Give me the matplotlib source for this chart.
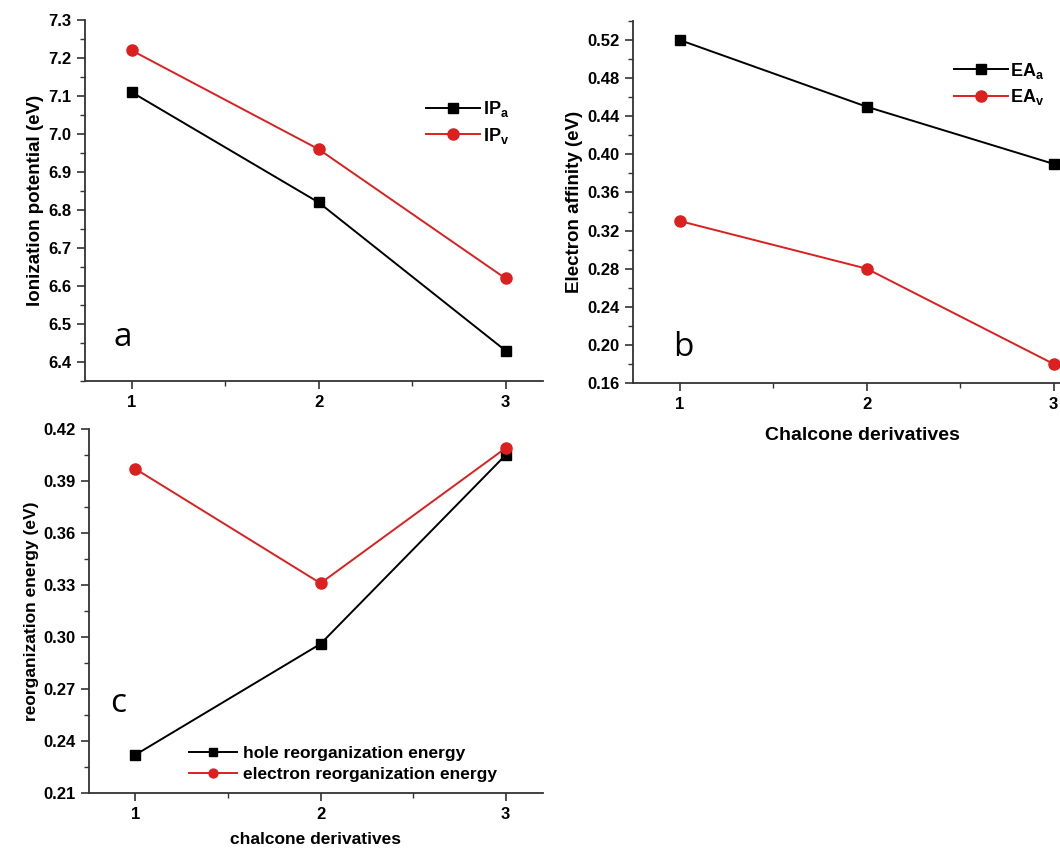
import matplotlib.pyplot as plt
from matplotlib.ticker import MultipleLocator

# Datos de los derivados de chalcona
derivados = [1, 2, 3]

ip_a = [7.11, 6.82, 6.43]
ip_v = [7.22, 6.96, 6.62]

ea_a = [0.52, 0.45, 0.39]
ea_v = [0.33, 0.28, 0.18]

hueco_reorg = [0.232, 0.296, 0.405]
electron_reorg = [0.397, 0.331, 0.409]

negro = '#000000'
rojo = '#dc1f1f'

plt.rcParams['font.family'] = ['Liberation Sans', 'DejaVu Sans']
plt.rcParams['font.weight'] = 'bold'
plt.rcParams['mathtext.fontset'] = 'custom'
plt.rcParams['mathtext.rm'] = 'Liberation Sans:bold'
plt.rcParams['mathtext.bf'] = 'Liberation Sans:bold'
plt.rcParams['mathtext.default'] = 'bf'

fig = plt.figure(figsize=(10.6, 8.49), dpi=100)

ax_a = fig.add_axes([0.0802, 0.5512, 0.432, 0.4252])
ax_b = fig.add_axes([0.5972, 0.5489, 0.432, 0.4264])
ax_c = fig.add_axes([0.0840, 0.0660, 0.428, 0.4287])


def estilo_ejes(ax, ymin, ymax, paso, ylabel, tam_label=13):
    ax.set_xlim(0.75, 3.2)
    ax.set_ylim(ymin, ymax)
    ax.set_xticks(derivados)
    ax.xaxis.set_minor_locator(MultipleLocator(0.5))
    ax.yaxis.set_major_locator(MultipleLocator(paso))
    ax.yaxis.set_minor_locator(MultipleLocator(paso / 2))
    for lado in ['top', 'right']:
        ax.spines[lado].set_visible(False)
    for lado in ['left', 'bottom']:
        ax.spines[lado].set_linewidth(1.3)
        ax.spines[lado].set_color('#333333')
    ax.tick_params(which='major', direction='out', length=6, width=1.2,
                   labelsize=12, pad=4, color='#333333')
    ax.tick_params(which='minor', direction='out', length=3.5, width=1.0,
                   color='#333333')
    ax.set_ylabel(ylabel, fontsize=tam_label, fontweight='bold', labelpad=3)


def graficar(ax, y1, y2, lab1, lab2):
    ax.plot(derivados, y1, color=negro, marker='s', markersize=7.5, lw=1.4,
            label=lab1, clip_on=False, zorder=3)
    ax.plot(derivados, y2, color=rojo, marker='o', markersize=8, lw=1.4,
            label=lab2, clip_on=False, zorder=3)


# Panel a: potencial de ionizacion
graficar(ax_a, ip_a, ip_v, r'IP$_\mathbf{a}$', r'IP$_\mathbf{v}$')
estilo_ejes(ax_a, 6.35, 7.3, 0.1, 'Ionization potential (eV)', 13.5)
ax_a.yaxis.set_major_formatter(plt.FormatStrFormatter('%.1f'))
ax_a.legend(loc='upper left', bbox_to_anchor=(0.745, 0.78), frameon=False,
            fontsize=13, handlelength=3.0, handletextpad=0.15,
            labelspacing=0.35, borderpad=0, borderaxespad=0)

# Panel b: afinidad electronica
graficar(ax_b, ea_a, ea_v, r'EA$_\mathbf{a}$', r'EA$_\mathbf{v}$')
estilo_ejes(ax_b, 0.16, 0.54, 0.04, 'Electron affinity (eV)', 13.5)
ax_b.yaxis.set_major_formatter(plt.FormatStrFormatter('%.2f'))
ax_b.set_xlabel('Chalcone derivatives', fontsize=14, fontweight='bold', labelpad=11)
ax_b.legend(loc='upper left', bbox_to_anchor=(0.70, 0.89), frameon=False,
            fontsize=13, handlelength=3.0, handletextpad=0.15,
            labelspacing=0.35, borderpad=0, borderaxespad=0)

# Panel c: energia de reorganizacion
graficar(ax_c, hueco_reorg, electron_reorg,
         'hole reorganization energy', 'electron reorganization energy')
estilo_ejes(ax_c, 0.21, 0.42, 0.03, 'reorganization energy (eV)', 12.5)
ax_c.yaxis.set_major_formatter(plt.FormatStrFormatter('%.2f'))
ax_c.set_xlabel('chalcone derivatives', fontsize=12.5, fontweight='bold', labelpad=7)
ax_c.legend(loc='upper left', bbox_to_anchor=(0.22, 0.13), frameon=False,
            fontsize=12.5, handlelength=2.8, handletextpad=0.3,
            labelspacing=0.35, borderpad=0, borderaxespad=0, markerscale=0.8)

# Letras de los paneles
fig.text(123 / 1060, 1 - 338 / 849, 'a', fontsize=24, fontweight='normal',
         family='Open Sans', ha='center', va='center')
fig.text(683 / 1060, 1 - 347 / 849, 'b', fontsize=24, fontweight='normal',
         family='Open Sans', ha='center', va='center')
fig.text(118 / 1060, 1 - 703 / 849, 'c', fontsize=24, fontweight='normal',
         family='Open Sans', ha='center', va='center')

plt.savefig('out.png', dpi=100)
